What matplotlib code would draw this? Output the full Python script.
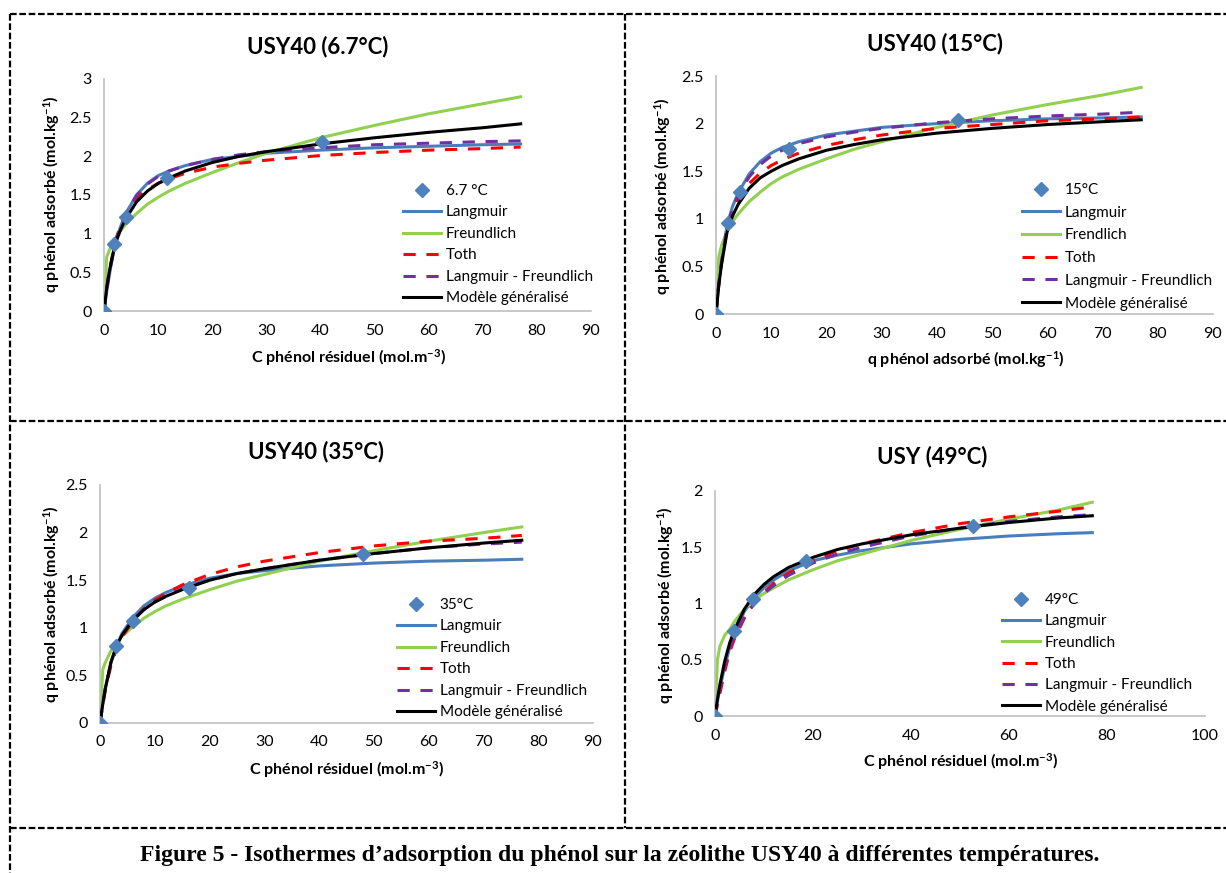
import matplotlib
matplotlib.use("Agg")
import matplotlib.pyplot as plt
from matplotlib.lines import Line2D

plt.rcParams['font.family'] = ['Lato', 'DejaVu Sans']
plt.rcParams['mathtext.fontset'] = 'custom'
plt.rcParams['mathtext.rm'] = 'Lato'
plt.rcParams['mathtext.bf'] = 'Lato:bold'
plt.rcParams['mathtext.it'] = 'Lato:italic'

W, H = 1226, 873

c_fit = [0, 0.5, 1, 2, 3, 4, 6, 8, 10, 12, 15, 20, 25, 30, 40, 50, 60, 70, 77]

# --- 6.7 °C
c_exp_67 = [0, 1.8, 4.0, 11.7, 40.2]
q_exp_67 = [0, 0.86, 1.22, 1.72, 2.18]
lang_67 = [0, 0.25, 0.47, 0.86, 1.08, 1.26, 1.50, 1.65, 1.75, 1.81, 1.88, 1.96, 2.00, 2.04, 2.08, 2.11, 2.13, 2.15, 2.16]
freu_67 = [0, 0.70, 0.79, 0.92, 1.03, 1.12, 1.26, 1.38, 1.47, 1.55, 1.65, 1.79, 1.92, 2.04, 2.24, 2.40, 2.55, 2.68, 2.77]
toth_67 = [0, 0.30, 0.52, 0.88, 1.10, 1.25, 1.45, 1.57, 1.65, 1.71, 1.78, 1.86, 1.91, 1.95, 2.01, 2.05, 2.08, 2.10, 2.12]
lf_67 = [0, 0.28, 0.50, 0.86, 1.08, 1.25, 1.49, 1.64, 1.74, 1.81, 1.88, 1.96, 2.02, 2.06, 2.11, 2.15, 2.17, 2.19, 2.20]
gen_67 = [0, 0.30, 0.52, 0.85, 1.04, 1.19, 1.41, 1.55, 1.65, 1.72, 1.81, 1.92, 2.00, 2.06, 2.16, 2.24, 2.31, 2.37, 2.42]

# --- 15 °C
c_exp_15 = [0, 2.2, 4.4, 13.3, 43.8]
q_exp_15 = [0, 0.96, 1.28, 1.73, 2.04]
lang_15 = [0, 0.32, 0.56, 0.93, 1.13, 1.27, 1.47, 1.60, 1.69, 1.75, 1.81, 1.88, 1.92, 1.96, 2.00, 2.03, 2.05, 2.06, 2.07]
freu_15 = [0, 0.60, 0.72, 0.87, 0.97, 1.05, 1.18, 1.28, 1.37, 1.44, 1.52, 1.63, 1.73, 1.81, 1.96, 2.09, 2.20, 2.30, 2.38]
toth_15 = [0, 0.30, 0.53, 0.90, 1.08, 1.20, 1.37, 1.48, 1.56, 1.62, 1.69, 1.77, 1.83, 1.88, 1.95, 1.99, 2.03, 2.05, 2.07]
lf_15 = [0, 0.32, 0.55, 0.92, 1.11, 1.25, 1.44, 1.57, 1.66, 1.72, 1.79, 1.86, 1.91, 1.95, 2.01, 2.05, 2.08, 2.10, 2.12]
gen_15 = [0, 0.30, 0.52, 0.86, 1.03, 1.15, 1.32, 1.43, 1.50, 1.56, 1.63, 1.72, 1.78, 1.83, 1.90, 1.95, 1.99, 2.02, 2.04]

# --- 35 °C
c_exp_35 = [0, 3.0, 6.0, 16.2, 48.0]
q_exp_35 = [0, 0.81, 1.07, 1.42, 1.77]
lang_35 = [0, 0.20, 0.37, 0.63, 0.81, 0.94, 1.11, 1.23, 1.31, 1.37, 1.44, 1.52, 1.57, 1.60, 1.65, 1.68, 1.70, 1.71, 1.72]
freu_35 = [0, 0.56, 0.64, 0.76, 0.84, 0.91, 1.01, 1.10, 1.17, 1.23, 1.30, 1.40, 1.49, 1.56, 1.70, 1.81, 1.91, 2.00, 2.06]
toth_35 = [0, 0.18, 0.36, 0.60, 0.78, 0.90, 1.07, 1.20, 1.29, 1.36, 1.45, 1.56, 1.64, 1.70, 1.79, 1.86, 1.91, 1.94, 1.97]
lf_35 = [0, 0.20, 0.37, 0.63, 0.80, 0.92, 1.08, 1.19, 1.27, 1.33, 1.41, 1.50, 1.57, 1.62, 1.71, 1.78, 1.84, 1.88, 1.90]
gen_35 = [0, 0.20, 0.37, 0.64, 0.81, 0.92, 1.08, 1.19, 1.27, 1.33, 1.40, 1.50, 1.57, 1.62, 1.71, 1.78, 1.84, 1.89, 1.92]

# --- 49 °C
c_exp_49 = [0, 3.9, 7.8, 18.5, 52.7]
q_exp_49 = [0, 0.76, 1.04, 1.38, 1.69]
lang_49 = [0, 0.13, 0.25, 0.44, 0.61, 0.74, 0.93, 1.05, 1.14, 1.21, 1.29, 1.38, 1.43, 1.47, 1.53, 1.57, 1.60, 1.62, 1.63]
freu_49 = [0, 0.50, 0.62, 0.72, 0.77, 0.84, 0.95, 1.03, 1.09, 1.14, 1.21, 1.30, 1.38, 1.44, 1.56, 1.66, 1.75, 1.83, 1.90]
toth_49 = [0, 0.10, 0.20, 0.40, 0.57, 0.69, 0.87, 1.00, 1.10, 1.18, 1.27, 1.38, 1.47, 1.53, 1.63, 1.71, 1.77, 1.82, 1.86]
lf_49 = [0, 0.12, 0.24, 0.44, 0.60, 0.72, 0.88, 1.00, 1.09, 1.16, 1.25, 1.36, 1.44, 1.50, 1.60, 1.67, 1.73, 1.77, 1.79]
gen_49 = [0, 0.15, 0.28, 0.49, 0.65, 0.77, 0.95, 1.08, 1.17, 1.24, 1.32, 1.41, 1.48, 1.53, 1.61, 1.67, 1.72, 1.76, 1.78]

titles = ["USY40 (6.7°C)", "USY40 (15°C)", "USY40 (35°C)", "USY (49°C)"]
exp_labels = ["6.7 °C", "15°C", "35°C", "49°C"]
freu_labels = ["Freundlich", "Frendlich", "Freundlich", "Freundlich"]
xlabel_c = r"C phénol résiduel (mol.m$^{\mathbf{-3}}$)"
ylabel_q = r"q phénol adsorbé (mol.kg$^{\mathbf{-1}}$)"
xlabels = [xlabel_c, ylabel_q, xlabel_c, xlabel_c]


def px(x, y):
    return (x / W, 1 - y / H)


fig = plt.figure(figsize=(W / 100, H / 100), dpi=100)

# pixel boxes of each plot area: left, right, bottom, top
boxes = [(104, 591, 311, 79), (716, 1213, 314, 76), (100, 593, 723, 485), (715, 1205, 716, 491)]
xmaxs = [90, 90, 90, 100]
xsteps = [10, 10, 10, 20]
ymaxs = [3, 2.5, 2.5, 2]
title_pos = [(318, 47), (935, 44), (316, 452), (932, 457)]
ylab_pos = [(52, 194), (663, 196), (52, 604), (666, 605)]
xlab_pos = [(348, 358), (966, 360), (346, 770), (960, 762)]
leg_pos = [(403, 184), (1022, 183), (397, 598), (1002, 593)]
leg_space = [0.49, 0.57, 0.49, 0.48]

panels = [
    (c_exp_67, q_exp_67, lang_67, freu_67, toth_67, lf_67, gen_67),
    (c_exp_15, q_exp_15, lang_15, freu_15, toth_15, lf_15, gen_15),
    (c_exp_35, q_exp_35, lang_35, freu_35, toth_35, lf_35, gen_35),
    (c_exp_49, q_exp_49, lang_49, freu_49, toth_49, lf_49, gen_49),
]

BLUE = '#4A7EBB'
MARK = '#4F81BD'
GREEN = '#92D050'
RED = '#FF0000'
PURPLE = '#7030A0'

for i, (ce, qe, la, fr, to, lf, ge) in enumerate(panels):
    l, r, b, t = boxes[i]
    x0, y0 = px(l, b)
    x1, y1 = px(r, t)
    ax = fig.add_axes([x0, y0, x1 - x0, y1 - y0])

    hl, = ax.plot(c_fit, la, color=BLUE, lw=2.2, label="Langmuir", zorder=2)
    hf, = ax.plot(c_fit, fr, color=GREEN, lw=2.2, label=freu_labels[i], zorder=2)
    ht, = ax.plot(c_fit, to, color=RED, lw=2.2, dashes=(4, 3.5), label="Toth", zorder=3)
    hp, = ax.plot(c_fit, lf, color=PURPLE, lw=2.2, dashes=(4, 3.5), label="Langmuir - Freundlich", zorder=3)
    hg, = ax.plot(c_fit, ge, color='black', lw=2.2, label="Modèle généralisé", zorder=4)
    hm, = ax.plot(ce, qe, ls='none', marker='D', ms=7, color=MARK, label=exp_labels[i], zorder=5)

    ax.set_xlim(0, xmaxs[i])
    ax.set_ylim(0, ymaxs[i])
    ax.set_xticks(range(0, xmaxs[i] + 1, xsteps[i]))
    yt = [k * 0.5 for k in range(int(ymaxs[i] / 0.5) + 1)]
    ax.set_yticks(yt)
    ax.set_yticklabels(["%g" % v for v in yt])
    for s in ['top', 'right']:
        ax.spines[s].set_visible(False)
    for s in ['left', 'bottom']:
        ax.spines[s].set_color('#BFBFBF')
        ax.spines[s].set_linewidth(1.2)
    ax.tick_params(axis='both', length=0, labelsize=11.5, colors='black')
    ax.tick_params(axis='x', pad=9)
    ax.tick_params(axis='y', pad=9)
    ax.patch.set_alpha(0)

    fig.text(*px(*title_pos[i]), titles[i], ha='center', va='center',
             fontsize=16, fontweight='bold')
    fig.text(*px(*ylab_pos[i]), ylabel_q, ha='center', va='center', rotation=90,
             fontsize=11.5, fontweight='bold')
    fig.text(*px(*xlab_pos[i]), xlabels[i], ha='center', va='center',
             fontsize=11.5, fontweight='bold')

    ax.legend(handles=[hm, hl, hf, ht, hp, hg], loc='upper left',
              bbox_to_anchor=px(*leg_pos[i]), bbox_transform=fig.transFigure,
              frameon=False, borderpad=0, borderaxespad=0, fontsize=11,
              handlelength=2.5, handletextpad=0.3, labelspacing=leg_space[i],
              numpoints=1)

# dashed frame lines
frame_kw = dict(color='black', lw=1.6, ls=(0, (3, 1.2)), transform=fig.transFigure)
for xs, ys in [((10, W), (14, 14)), ((10, W), (421, 421)), ((10, W), (828, 828)),
               ((10, 10), (14, H)), ((625, 625), (14, 828))]:
    p0 = px(xs[0], ys[0])
    p1 = px(xs[1], ys[1])
    fig.add_artist(Line2D([p0[0], p1[0]], [p0[1], p1[1]], **frame_kw))

fig.text(*px(620, 855), "Figure 5 - Isothermes d\u2019adsorption du phénol sur la zéolithe USY40 à différentes températures.",
         ha='center', va='center', fontsize=17, fontweight='bold', family='Liberation Serif')

fig.savefig("out.png", dpi=100)
